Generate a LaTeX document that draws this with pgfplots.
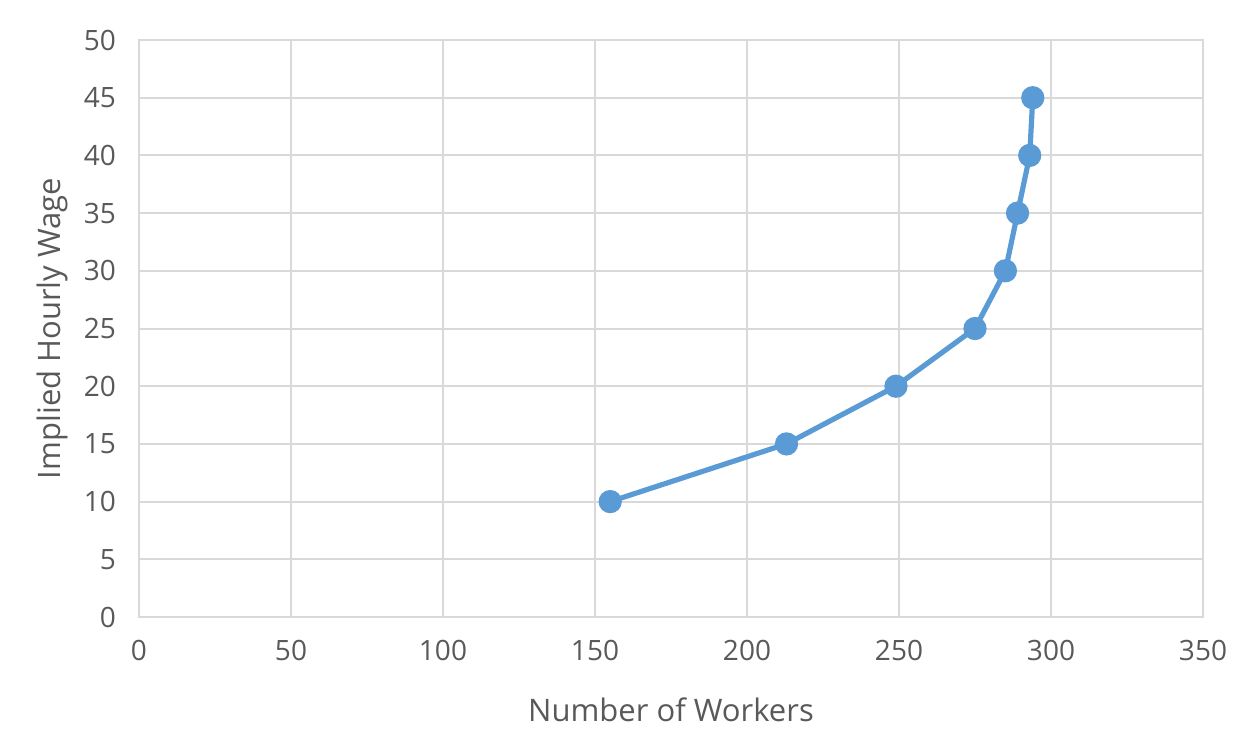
\documentclass[border=0pt]{standalone}
\usepackage{pgfplots}
\pgfplotsset{compat=1.18}
\usepackage{fontspec}
\setmainfont{Open Sans}
\definecolor{exblue}{HTML}{5B9BD5}
\definecolor{gridg}{HTML}{D9D9D9}
\definecolor{txtg}{HTML}{595959}
\begin{document}
\begin{tikzpicture}
\begin{axis}[
  scale only axis,
  width=532pt, height=288.5pt,
  xmin=0, xmax=350, ymin=0, ymax=50,
  xtick={0,50,...,350}, ytick={0,5,...,50},
  grid=major,
  major grid style={gridg, line width=1pt},
  axis line style={gridg, line width=1pt},
  tick style={draw=none},
  /pgf/number format/assume math mode=true,
  ticklabel style={font=\fontsize{14}{16}\selectfont, text=txtg},
  xticklabel style={yshift=-8pt},
  yticklabel style={xshift=-8pt},
  xlabel={Number of Workers},
  ylabel={Implied Hourly Wage},
  label style={font=\fontsize{15.5}{18}\selectfont, text=txtg},
  xlabel style={yshift=-11.5pt},
  ylabel style={yshift=1pt},
]
\addplot[exblue, line width=2.6pt, mark=*, mark size=4.5pt, mark options={fill=exblue, draw=exblue}] coordinates {
(155,10) (213,15) (249,20) (275,25) (285,30) (289,35) (293,40) (294,45)
};
\end{axis}
\pgfresetboundingbox
\path[use as bounding box] (-69.5pt,-67pt) rectangle (559.5pt,308.5pt);
\end{tikzpicture}
\end{document}
